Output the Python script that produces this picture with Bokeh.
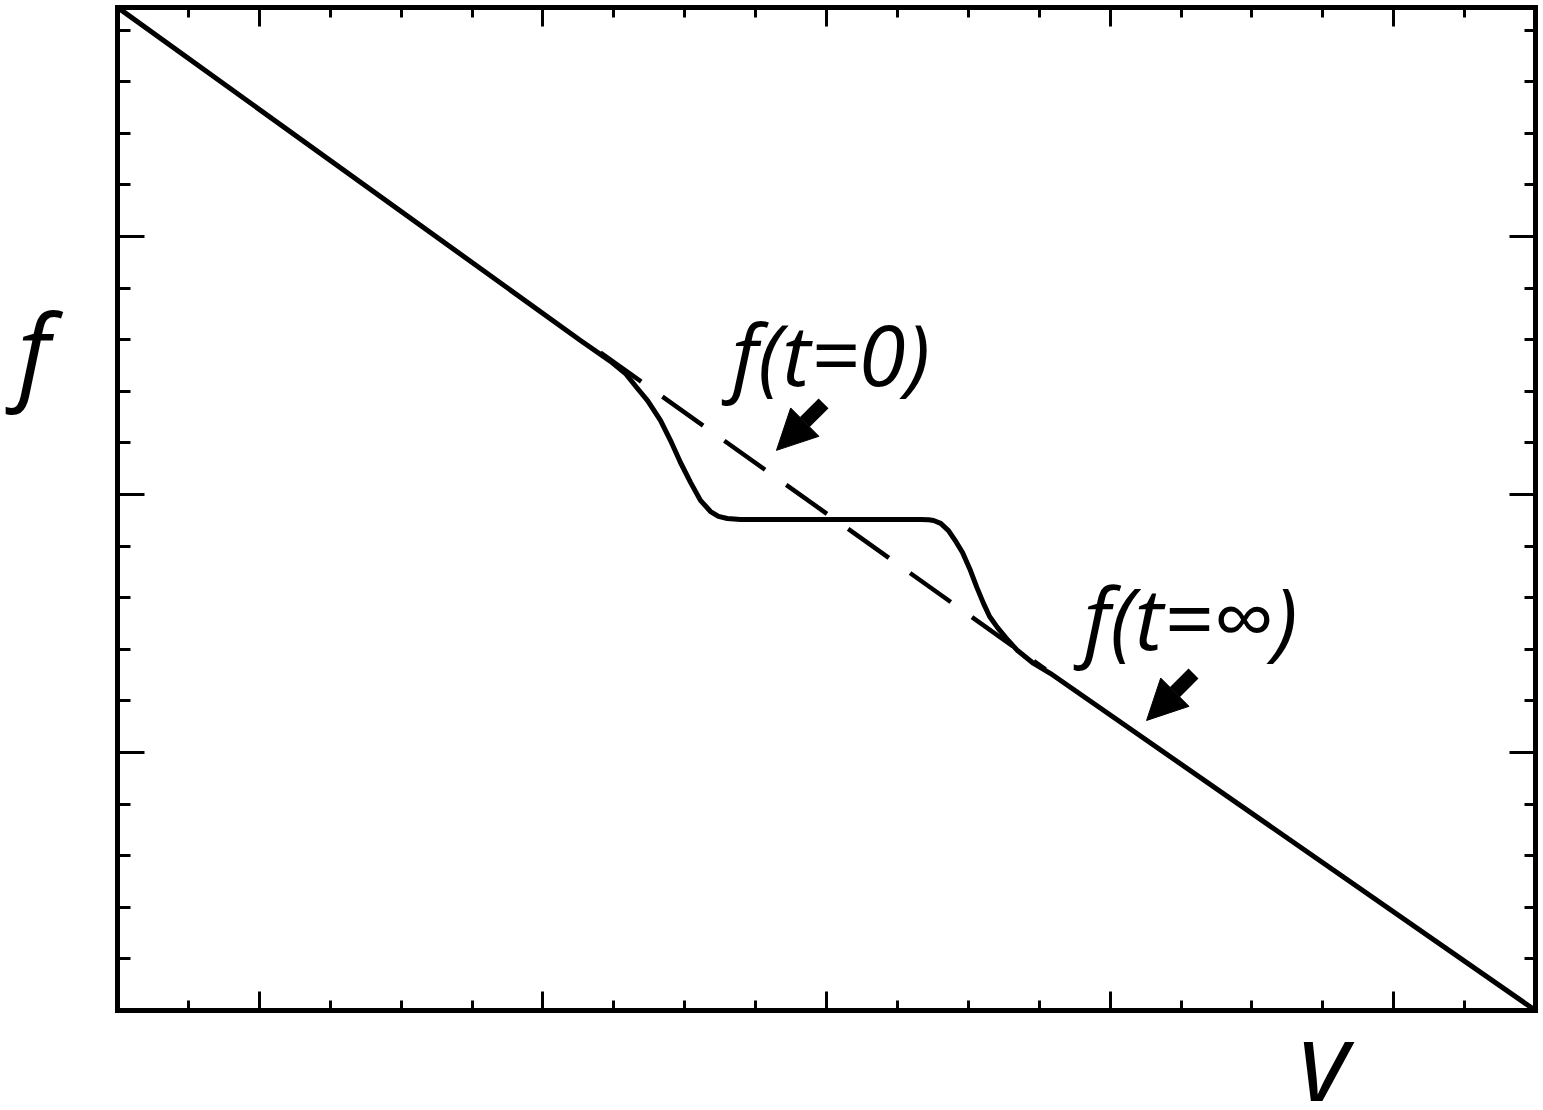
from bokeh.plotting import figure
from bokeh.models import (Range1d, LinearAxis, FixedTicker, CustomJSTickFormatter,
                          Label, Arrow, NormalHead)
from bokeh.embed import file_html
from bokeh.resources import INLINE

# ---- data (x = v, y = f) ----
v_solid = [-5.000, -1.735, -1.523, -1.418, -1.333, -1.262, -1.171, -1.100, -1.030,
           -0.959, -0.889, -0.818, -0.762, -0.700, -0.606, 0.028, 0.663, 0.720,
           0.755, 0.805, 0.860, 0.915, 0.959, 1.015, 1.060, 1.107, 1.150, 1.206,
           1.280, 1.347, 1.460, 1.580, 5.000]
f_solid = [3.888, 2.597, 2.516, 2.469, 2.411, 2.364, 2.287, 2.209, 2.124,
           2.047, 1.977, 1.934, 1.915, 1.907, 1.903, 1.903, 1.903, 1.902,
           1.899, 1.888, 1.860, 1.815, 1.775, 1.705, 1.640, 1.578, 1.527, 1.484,
           1.435, 1.395, 1.345, 1.306, 0.000]

v_dashed = [-1.594, 1.544]
f_dashed = [2.550, 1.322]

v_min, v_max = -5.0, 5.0          # box limits of the plotted axes
f_min, f_max = 0.0, 3.888

x_major = [-4, -2, 0, 2, 4]
x_minor = [-5 + 0.5 * i for i in range(21)]
y_major = [0, 1, 2, 3]
y_minor = [0.2 * i for i in range(20)]

label_t0 = "f(t=0)"
label_tinf = "f(t=\u221e)"
y_title = "f"
x_title = "v"

FONT = "Open Sans"

W, H = 1543, 1110
# the visible range is a little wider than the box so that the axis
# titles, which sit outside the box, are drawn inside the frame
p = figure(width=W, height=H, output_backend="svg", toolbar_location=None,
           x_range=Range1d(-5.811, 5.042), y_range=Range1d(-0.380, 3.907),
           x_axis_location=None, y_axis_location=None,
           min_border_left=2, min_border_right=2, min_border_top=2,
           min_border_bottom=2)
p.xgrid.visible = False
p.ygrid.visible = False
p.outline_line_color = None
p.background_fill_color = "white"
p.border_fill_color = "white"

blank = CustomJSTickFormatter(code="return ''")


def make_axis(loc, fixed, bounds, maj, minr, maj_len, min_len):
    ax = LinearAxis(ticker=FixedTicker(ticks=maj, minor_ticks=minr), formatter=blank,
                    fixed_location=fixed, bounds=bounds)
    ax.major_tick_in = maj_len
    ax.major_tick_out = 0
    ax.minor_tick_in = min_len
    ax.minor_tick_out = 0
    ax.major_tick_line_width = 3
    ax.minor_tick_line_width = 3
    ax.axis_line_width = 5
    ax.axis_line_cap = "square"
    ax.axis_line_color = "black"
    ax.major_label_standoff = 0
    ax.major_label_text_font_size = "0px"
    p.add_layout(ax, loc)


make_axis("below", f_min, (v_min, v_max), x_major, x_minor, 19, 10)
make_axis("above", f_max, (v_min, v_max), x_major, x_minor, 19, 10)
make_axis("left", v_min, (f_min, f_max), y_major, y_minor, 27, 13)
make_axis("right", v_max, (f_min, f_max), y_major, y_minor, 26, 11)

p.line(x=v_dashed, y=f_dashed, line_color="black", line_width=4.5, line_dash="50 26")
p.line(x=v_solid, y=f_solid, line_color="black", line_width=5, line_join="round")


def add_label(x, y, text, size):
    p.add_layout(Label(x=x, y=y, text=text, text_font=FONT, level="overlay",
                       text_font_style="italic", text_font_size=size,
                       text_color="black", text_baseline="alphabetic"))


add_label(-0.670, 2.547, label_t0, "85px")
add_label(1.812, 1.527, label_tinf, "86px")
add_label(-5.705, 2.562, y_title, "104px")
add_label(3.329, -0.184, x_title, "110px")

# arrows pointing down-left
for (xs, ys, xe, ye) in [(-0.021, 2.353, -0.353, 2.171), (2.588, 1.306, 2.257, 1.124)]:
    p.add_layout(Arrow(end=NormalHead(size=40, fill_color="black", line_color="black"),
                       x_start=xs, y_start=ys, x_end=xe, y_end=ye,
                       line_width=14, line_color="black"))

open("out.html", "w").write(file_html(p, INLINE))
